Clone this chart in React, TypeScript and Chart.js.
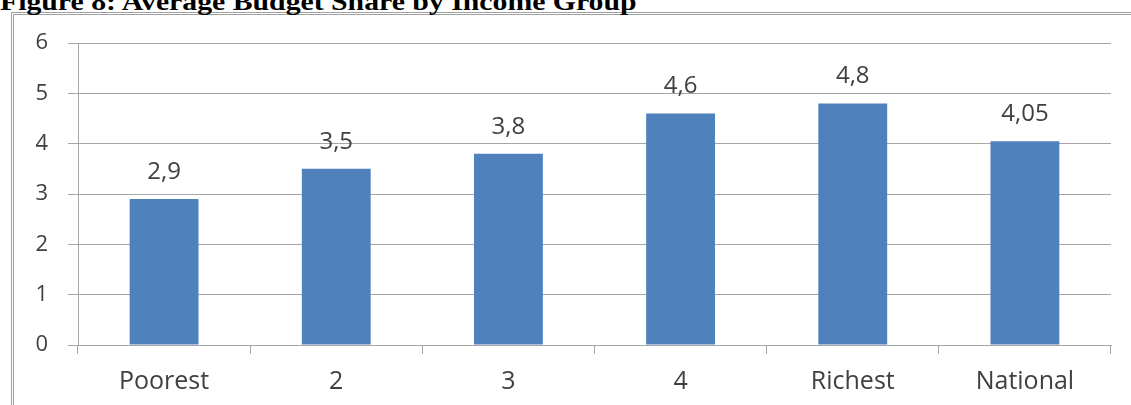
import React, { useEffect, useRef } from "react";
import { Chart, registerables } from "chart.js";

Chart.register(...registerables);

const title = "Figure 8: Average Budget Share by Income Group";
const categories = ["Poorest", "2", "3", "4", "Richest", "National"];
const shares = [2.9, 3.5, 3.8, 4.6, 4.8, 4.05];
const yTicks = [0, 1, 2, 3, 4, 5, 6];

const W = 1131;
const H = 405;
const TEXT = "#404040";
const GRID = "#a6a6a6";
const FONT = "'Open Sans', 'Liberation Sans', sans-serif";

const valueLabels = {
  id: "valueLabels",
  afterDatasetsDraw(chart: any) {
    const ctx = chart.ctx;
    const meta = chart.getDatasetMeta(0);
    ctx.save();
    ctx.font = `24px ${FONT}`;
    ctx.fillStyle = TEXT;
    ctx.textAlign = "center";
    ctx.textBaseline = "middle";
    meta.data.forEach((bar: any, i: number) => {
      const v = chart.data.datasets[0].data[i];
      ctx.fillText(String(v).replace(".", ","), bar.x, bar.y - 27);
    });
    ctx.restore();
  },
};

export default function App() {
  const ref = useRef<HTMLCanvasElement>(null);
  useEffect(() => {
    if (!ref.current) return;
    const chart = new Chart(ref.current, {
      type: "bar",
      data: {
        labels: categories,
        datasets: [
          {
            data: shares,
            backgroundColor: "#4f81bd",
            barPercentage: 0.4,
            categoryPercentage: 1,
          },
        ],
      },
      options: {
        responsive: false,
        animation: false,
        layout: { padding: { top: 43, right: 20, left: 0, bottom: 0 } },
        plugins: { legend: { display: false }, tooltip: { enabled: false } },
        scales: {
          x: {
            offset: true,
            grid: {
              offset: true,
              drawOnChartArea: false,
              drawTicks: true,
              tickLength: 9,
              color: GRID,
            },
            border: { display: true, color: GRID, width: 1 },
            ticks: {
              color: TEXT,
              font: { family: FONT, size: 25 },
              padding: 13,
              maxRotation: 0,
            },
            afterFit: (s: any) => {
              s.height = 60;
            },
          },
          y: {
            min: 0,
            max: 6,
            afterBuildTicks: (s: any) => {
              s.ticks = yTicks.map((v) => ({ value: v }));
            },
            grid: { color: GRID, tickLength: 10, drawTicks: true },
            border: { display: true, color: GRID, width: 1 },
            ticks: {
              color: TEXT,
              font: { family: FONT, size: 22 },
              padding: 20,
            },
            afterFit: (s: any) => {
              s.width = 78;
            },
          },
        },
      },
      plugins: [valueLabels],
    });
    return () => chart.destroy();
  }, []);

  return (
    <div
      style={{
        position: "fixed",
        left: 0,
        top: 0,
        width: W,
        height: H,
        overflow: "hidden",
        background: "#fff",
      }}
    >
      <div
        style={{
          position: "absolute",
          left: 11,
          top: 12,
          width: 1200,
          height: 500,
          border: "3px double #a0a0a0",
        }}
      />
      <div
        style={{
          position: "absolute",
          left: 0,
          top: -11,
          fontFamily: "'Liberation Serif', 'Times New Roman', serif",
          fontWeight: "bold",
          fontSize: 25,
          lineHeight: "25px",
          whiteSpace: "nowrap",
          color: "#000",
          transform: "scaleX(1.19)",
          transformOrigin: "0 0",
        }}
      >
        {title}
      </div>
      <canvas
        ref={ref}
        width={W}
        height={H}
        style={{ position: "absolute", left: 0, top: 0 }}
      />
    </div>
  );
}
